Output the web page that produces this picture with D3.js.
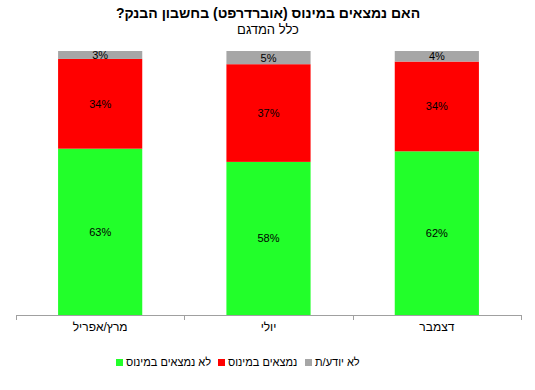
<!DOCTYPE html>
<html>
<head>
<meta charset="utf-8">
<script src="https://cdn.jsdelivr.net/npm/d3@7"></script>
<style>
  body { margin: 0; background: #fff; }
  text { font-family: "Liberation Sans", Arial, sans-serif; }
</style>
</head>
<body>
<svg></svg>
<script>
let width = 535;
let height = 390;

// data
let categories = ['מרץ/אפריל', 'יולי', 'דצמבר'];
let notMinus = [63, 58, 62];
let minus = [34, 37, 34];
let dontKnow = [3, 5, 4];

let seriesNames = ['לא נמצאים במינוס', 'נמצאים במינוס', 'לא יודע/ת'];
let seriesColors = ['#22ff2a', '#ff0000', '#a6a6a6'];

let rows = categories.map((c, i) => ({cat: c, s0: notMinus[i], s1: minus[i], s2: dontKnow[i]}));

let svg = d3.select('svg')
  .attr('width', width)
  .attr('height', height);

// title (rtl so the ? ends up on the left)
svg.append('text')
  .attr('x', 268).attr('y', 18)
  .attr('text-anchor', 'middle')
  .attr('direction', 'rtl')
  .attr('font-size', 14).attr('font-weight', 'bold')
  .text('האם נמצאים במינוס (אוברדרפט) בחשבון הבנק?');

svg.append('text')
  .attr('x', 268).attr('y', 34)
  .attr('text-anchor', 'middle')
  .attr('direction', 'rtl')
  .attr('font-size', 13)
  .text('כלל המדגם');

let x = d3.scaleBand()
  .domain(categories)
  .range([16, 521])
  .paddingInner(0.5)
  .paddingOuter(0.25);

let y = d3.scaleLinear()
  .domain([0, 100])
  .range([315, 51]);

let stack = d3.stack().keys(['s0', 's1', 's2'])(rows);

let layers = svg.selectAll('.layer')
  .data(stack)
  .enter()
  .append('g')
    .classed('layer', true)
    .attr('fill', (d, i) => seriesColors[i]);

layers.selectAll('rect')
  .data(d => d)
  .enter()
  .append('rect')
    .attr('x', d => x(d.data.cat))
    .attr('width', x.bandwidth())
    .attr('y', d => y(d[1]))
    .attr('height', d => y(d[0]) - y(d[1]));

layers.selectAll('.lbl')
  .data(d => d.map(p => ({p: p, v: p[1] - p[0]})))
  .enter()
  .append('text')
    .classed('lbl', true)
    .attr('x', d => x(d.p.data.cat) + x.bandwidth() / 2)
    .attr('y', d => (y(d.p[0]) + y(d.p[1])) / 2 + 4)
    .attr('text-anchor', 'middle')
    .attr('font-size', 11)
    .attr('fill', '#000')
    .text(d => d.v + '%');

// axis: line with ticks between categories
let axisG = svg.append('g');
axisG.append('line')
  .attr('x1', 16).attr('x2', 521)
  .attr('y1', 315.5).attr('y2', 315.5)
  .attr('stroke', '#a0a0a0');

let tickXs = d3.range(categories.length + 1).map(i => 16 + (521 - 16) * i / categories.length);
axisG.selectAll('.tk')
  .data(tickXs)
  .enter()
  .append('line')
    .attr('x1', d => Math.round(d) + 0.5).attr('x2', d => Math.round(d) + 0.5)
    .attr('y1', 315).attr('y2', 320)
    .attr('stroke', '#a0a0a0');

axisG.selectAll('.cat')
  .data(categories)
  .enter()
  .append('text')
    .attr('x', d => x(d) + x.bandwidth() / 2)
    .attr('y', 331)
    .attr('text-anchor', 'middle')
    .attr('font-size', 12)
    .text(d => d);

// legend
let legendX = [116, 218, 305];
let legend = svg.selectAll('.leg')
  .data(seriesNames)
  .enter()
  .append('g')
    .attr('transform', (d, i) => `translate(${legendX[i]}, 365)`);

legend.append('rect')
  .attr('x', 0).attr('y', -6)
  .attr('width', 7).attr('height', 7)
  .attr('fill', (d, i) => seriesColors[i]);

legend.append('text')
  .attr('x', 10).attr('y', 1)
  .attr('font-size', 11)
  .text(d => d);
</script>
</body>
</html>
